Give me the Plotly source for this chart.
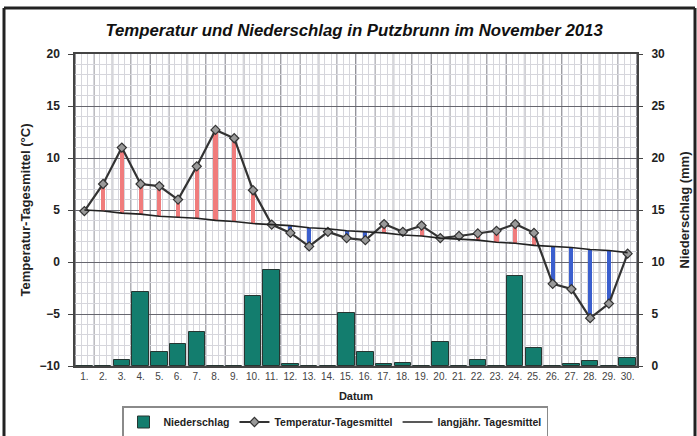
import plotly.graph_objects as go

days = list(range(1, 31))
day_labels = [f"{d}." for d in days]

temp_mean = [4.9, 7.5, 11.0, 7.5, 7.3, 6.0, 9.2, 12.7, 11.9, 6.9,
             3.6, 2.8, 1.5, 2.9, 2.3, 2.1, 3.65, 2.9, 3.5, 2.3,
             2.5, 2.75, 3.0, 3.65, 2.8, -2.1, -2.6, -5.4, -4.0, 0.8]

longterm_mean = [5.0, 4.9, 4.7, 4.6, 4.4, 4.3, 4.2, 4.0, 3.9, 3.7,
                 3.6, 3.5, 3.3, 3.2, 3.0, 2.9, 2.8, 2.6, 2.5, 2.3,
                 2.2, 2.1, 1.9, 1.8, 1.6, 1.5, 1.4, 1.2, 1.1, 0.9]

precip = [0, 0, 0.6, 7.1, 1.3, 2.1, 3.3, 0, 0, 6.7,
          9.2, 0.15, 0, 0, 5.1, 1.3, 0.15, 0.3, 0, 2.35,
          0, 0.6, 0, 8.7, 1.75, 0, 0.15, 0.5, 0, 0.75]

FONT = "Liberation Sans, Arial, sans-serif"

diff = [t - m for t, m in zip(temp_mean, longterm_mean)]
stick_colors = ["#f07c7c" if d >= 0 else "#3b5fce" for d in diff]

fig = go.Figure()

fig.add_trace(go.Bar(
    x=days, y=precip, yaxis="y2", name="<b>Niederschlag</b>",
    marker=dict(color="#137d6e", line=dict(color="#263632", width=1)),
    width=0.88,
))

fig.add_trace(go.Bar(
    x=days, y=diff, base=longterm_mean, yaxis="y",
    marker=dict(color=stick_colors, line=dict(width=0)),
    width=0.22, showlegend=False, hoverinfo="skip",
))

fig.add_trace(go.Scatter(
    x=days, y=temp_mean, mode="lines+markers", name="<b>Temperatur-Tagesmittel</b>",
    line=dict(color="#333333", width=2.2),
    marker=dict(symbol="diamond", size=7, color="#9a9a9a",
                line=dict(color="#333333", width=1.2)),
))

fig.add_trace(go.Scatter(
    x=days, y=longterm_mean, mode="lines", name="<b>langjähr. Tagesmittel</b>",
    line=dict(color="#222222", width=1.6),
))

# darker vertical grid lines at day boundaries
shapes = []
for d in range(0, 31):
    shapes.append(dict(type="line", xref="x", yref="paper",
                       x0=d + 0.5, x1=d + 0.5, y0=0, y1=1,
                       line=dict(color="#66666e", width=1.4), layer="below"))
# outer frame (left, top, right edges)
W, H = 697, 436
L, T, PW, PH = 75, 54, 562, 312
def px_x(p):
    return (p - L) / PW
def px_y(p):
    return 1 - (p - T) / PH
for (x0, y0, x1, y1) in [(4, 8, 4, 440), (4, 8, 695, 8), (695, 8, 695, 440)]:
    shapes.append(dict(type="line", xref="paper", yref="paper",
                       x0=px_x(x0), x1=px_x(x1), y0=px_y(y0), y1=px_y(y1),
                       line=dict(color="#222222", width=3)))

fig.update_layout(
    width=W, height=H,
    margin=dict(l=L, r=W - L - PW, t=T, b=H - T - PH),
    paper_bgcolor="white", plot_bgcolor="white",
    font=dict(family=FONT, size=10, color="#222222"),
    title=dict(text="<b><i>Temperatur und Niederschlag in Putzbrunn im November 2013</i></b>",
               x=0.508, xanchor="center", y=1 - 30 / H, yanchor="middle",
               font=dict(size=16.8, family=FONT, color="#111111")),
    barmode="overlay",
    bargap=0,
    shapes=shapes,
    showlegend=True,
    legend=dict(orientation="h", x=px_x(335), xanchor="center",
                yref="container", y=1 - 406 / H, yanchor="top",
                bordercolor="#8a8a8a", borderwidth=1.5, bgcolor="white",
                font=dict(size=10.5, family=FONT, color="#222222"),
                traceorder="normal", itemwidth=30, tracegroupgap=0),
    xaxis=dict(
        range=[0.5, 30.5], tickmode="array", tickvals=days, ticktext=day_labels,
        showgrid=False, zeroline=False, automargin=False,
        showline=True, linecolor="#444444", linewidth=1.5, mirror=True,
        ticks="", tickfont=dict(size=10, color="#444444"),
        minor=dict(tick0=0.5, dtick=1 / 3, showgrid=True, gridcolor="#d6d6dc", gridwidth=1),
        title=dict(text="<b>Datum</b>", font=dict(size=11), standoff=12),
    ),
    yaxis=dict(
        range=[-10, 20], dtick=5, tick0=-10, automargin=False,
        showgrid=True, gridcolor="#66666e", gridwidth=1.4, zeroline=False,
        showline=True, linecolor="#444444", linewidth=1.5, mirror=True,
        ticks="outside", ticklen=5, tickcolor="#444444", ticklabelstandoff=6,
        tickfont=dict(size=12),
        tickprefix="<b>", ticksuffix="</b>",
        minor=dict(dtick=1, showgrid=True, gridcolor="#d6d6dc", gridwidth=1),
        title=dict(text="<b>Temperatur-Tagesmittel (°C)</b>", font=dict(size=13), standoff=6),
    ),
    yaxis2=dict(
        range=[0, 30], dtick=5, overlaying="y", side="right", automargin=False,
        showgrid=False, zeroline=False,
        ticks="outside", ticklen=5, tickcolor="#444444", ticklabelstandoff=6,
        tickfont=dict(size=12),
        tickprefix="<b>", ticksuffix="</b>",
        title=dict(text="<b>Niederschlag (mm)</b>", font=dict(size=13)),
    ),
)

fig.write_html("out.html", config={"displayModeBar": False},
               post_script="document.body.style.margin='0';")
